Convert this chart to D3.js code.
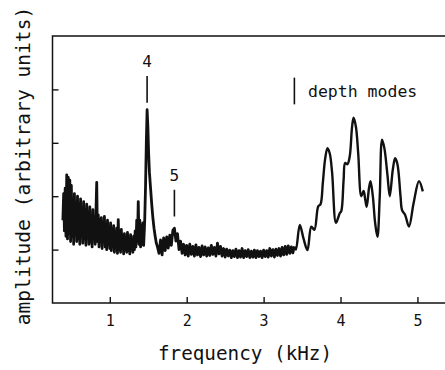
<!DOCTYPE html>
<html>
<head>
<meta charset="utf-8">
<script src="https://cdn.jsdelivr.net/npm/d3@7"></script>
<style>
  body { margin: 0; background: #fff; }
  text { font-family: "DejaVu Sans Mono", monospace; fill: #111; }
</style>
</head>
<body>
<div id="chart"></div>
<script>
// ---- data ----
// noisy low band: start 0.39 kHz, 0.01 kHz apart
var lowStart = 0.39, lowStep = 0.01;
var lowAmp = [
  1.55, 2.05, 1.35, 2.15, 1.25, 2.40, 1.20, 2.35, 1.30, 2.30,
  1.15, 2.20, 1.25, 1.95, 1.10, 2.05, 1.30, 1.80, 1.15, 2.00,
  1.20, 1.85, 1.10, 1.95, 1.25, 1.70, 1.12, 1.90, 1.20, 1.75,
  1.08, 1.85, 1.25, 1.65, 1.10, 1.80, 1.15, 1.60, 1.05, 1.75,
  1.20, 1.55, 1.10, 1.70, 2.26, 1.15, 1.65, 1.05, 1.55, 1.20,
  1.60, 1.02, 1.50, 1.15, 1.62, 1.05, 1.45, 1.00, 1.55, 1.10,
  1.40, 1.02, 1.50, 0.98, 1.35, 1.08, 1.45, 0.95, 1.30, 1.05,
  1.40, 0.93, 1.56, 1.00, 1.32, 0.95, 1.38, 1.05, 1.25, 0.92,
  1.30, 1.00, 1.22, 0.95, 1.32, 0.98, 1.20, 0.92, 1.28, 1.02,
  1.18, 0.95, 1.25, 1.00, 1.35, 1.05, 1.55, 1.15, 1.90, 1.10,
  1.55, 1.05, 1.45, 1.10, 1.50, 1.08, 1.40
];
// mode 4 peak: [kHz, amplitude]
var peak4 = [
  [1.455, 1.6], [1.465, 2.2], [1.475, 3.0], [1.485, 3.62], [1.495, 3.3],
  [1.505, 2.8], [1.515, 2.45], [1.53, 2.15], [1.545, 1.85], [1.56, 1.6],
  [1.575, 1.4], [1.59, 1.25], [1.605, 1.12]
];
// middle band: start 1.62 kHz, 0.02 kHz apart
var midStart = 1.62, midStep = 0.02;
var midAmp = [
  1.05, 0.93, 1.18, 0.90, 1.22, 0.98, 1.24, 1.03, 1.27, 1.08,
  1.36, 1.40, 1.16, 1.30, 1.00, 1.16, 0.93, 1.10, 0.90, 1.08,
  0.88, 1.10, 0.91, 1.06, 0.88, 1.09, 0.90, 1.04, 0.87, 1.07,
  0.90, 1.05, 0.88, 1.03, 0.89, 1.08, 0.91, 1.04, 0.88, 1.12,
  0.92, 1.06, 0.88, 1.02, 0.86, 1.01, 0.88, 0.99, 0.85, 0.98,
  0.87, 1.01, 0.85, 0.98, 0.86, 1.02, 0.85, 0.98, 0.87, 1.00,
  0.85, 0.97, 0.86, 0.99, 0.85, 0.98, 0.87, 0.97, 0.85, 0.99,
  0.87, 0.98, 0.86, 1.02, 0.88, 1.00, 0.86, 1.01, 0.89, 1.02,
  0.88, 1.04, 0.90, 1.06, 0.91, 1.07, 0.93, 1.05, 0.94, 1.06
];
// depth modes, smooth part: [kHz, amplitude]
var depthPart = [
  [3.40, 1.05], [3.42, 1.0], [3.47, 1.46], [3.52, 1.2], [3.57, 0.99], [3.62, 1.43],
  [3.66, 1.37], [3.71, 1.81], [3.74, 1.85], [3.77, 2.25], [3.80, 2.7],
  [3.83, 2.9], [3.86, 2.8], [3.89, 2.45], [3.94, 1.5], [3.97, 1.6],
  [3.99, 1.68], [4.01, 1.72], [4.04, 2.3], [4.06, 2.62], [4.09, 2.6],
  [4.12, 2.75], [4.15, 3.3], [4.17, 3.47], [4.20, 3.3], [4.23, 2.8],
  [4.27, 2.0], [4.30, 2.1], [4.32, 1.95], [4.34, 1.8], [4.37, 2.15],
  [4.39, 2.28], [4.42, 2.0], [4.45, 1.5], [4.48, 1.24], [4.51, 2.0],
  [4.54, 3.06], [4.57, 2.9], [4.61, 2.4], [4.64, 2.0], [4.68, 2.5],
  [4.71, 2.71], [4.74, 2.6], [4.78, 2.0], [4.80, 1.74], [4.84, 1.65],
  [4.89, 1.43], [4.95, 1.87], [5.02, 2.28], [5.07, 2.09]
];
var xTicks = [1, 2, 3, 4, 5];
var yTicks = [1, 2, 3, 4];
// mode markers: [kHz, label, amplitude of bar bottom, bar top]
var modeMarks = [[1.485, "4", 3.75, 4.25], [1.84, "5", 1.62, 2.12]];

// ---- layout ----
var W = 445, H = 370;
var mLeft = 52.5, mTop = 36, mRight = 448, mBottom = 303;

var svg = d3.select("#chart").append("svg")
    .attr("width", W).attr("height", H);

var x = d3.scaleLinear().domain([0.255, 5.4]).range([mLeft, mRight + 0.2]);
var y = d3.scaleLinear().domain([0, 5]).range([mBottom, mTop]);

// build the noisy trace
var noisy = [];
lowAmp.forEach(function (a, i) { noisy.push([lowStart + i * lowStep, a]); });
peak4.forEach(function (p) { noisy.push(p); });
midAmp.forEach(function (a, i) { noisy.push([midStart + i * midStep, a]); });

var lineLin = d3.line().x(function (d) { return x(d[0]); }).y(function (d) { return y(d[1]); });
var lineSmooth = d3.line().curve(d3.curveCatmullRom.alpha(0.5))
    .x(function (d) { return x(d[0]); }).y(function (d) { return y(d[1]); });

// frame
svg.append("rect")
    .attr("x", mLeft).attr("y", mTop)
    .attr("width", mRight - mLeft).attr("height", mBottom - mTop)
    .attr("fill", "none").attr("stroke", "#111").attr("stroke-width", 1.5);

// x ticks (inward)
svg.append("g")
    .attr("transform", "translate(0," + mBottom + ")")
    .call(d3.axisBottom(x).tickValues(xTicks).tickSize(-6).tickPadding(12).tickFormat(d3.format("d")))
    .call(function (g) {
        g.select(".domain").remove();
        g.selectAll("line").attr("stroke", "#111").attr("stroke-width", 1.4);
        g.selectAll("text").attr("font-size", 15).attr("font-family", "DejaVu Sans Mono").attr("fill", "#111");
    });

// y ticks (inward, no labels)
svg.append("g")
    .attr("transform", "translate(" + mLeft + ",0)")
    .call(d3.axisLeft(y).tickValues(yTicks).tickSize(-6).tickFormat(""))
    .call(function (g) {
        g.select(".domain").remove();
        g.selectAll("line").attr("stroke", "#111").attr("stroke-width", 1.4);
    });

// traces
svg.append("path").datum(noisy)
    .attr("d", lineLin)
    .attr("fill", "none").attr("stroke", "#111").attr("stroke-width", 2.8)
    .attr("stroke-linejoin", "round");
svg.append("path").datum(depthPart)
    .attr("d", lineSmooth)
    .attr("fill", "none").attr("stroke", "#111").attr("stroke-width", 2.4)
    .attr("stroke-linejoin", "round");

// mode markers
modeMarks.forEach(function (m) {
    svg.append("line")
        .attr("x1", x(m[0])).attr("x2", x(m[0]))
        .attr("y1", y(m[2])).attr("y2", y(m[3]))
        .attr("stroke", "#111").attr("stroke-width", 1.6);
    svg.append("text")
        .attr("x", x(m[0])).attr("y", y(m[3]) - 9)
        .attr("text-anchor", "middle").attr("font-size", 16)
        .text(m[1]);
});

// legend
svg.append("line")
    .attr("x1", x(3.4)).attr("x2", x(3.4))
    .attr("y1", y(4.22)).attr("y2", y(3.72))
    .attr("stroke", "#111").attr("stroke-width", 1.6);
svg.append("text")
    .attr("x", 308).attr("y", 97)
    .attr("font-size", 16.5)
    .text("depth modes");

// axis titles
svg.append("text")
    .attr("x", 245).attr("y", 360)
    .attr("text-anchor", "middle").attr("font-size", 19.3)
    .text("frequency (kHz)");
svg.append("text")
    .attr("transform", "translate(30,166) rotate(-90)")
    .attr("text-anchor", "middle").attr("font-size", 19.6)
    .text("amplitude (arbitrary units)");
</script>
</body>
</html>
